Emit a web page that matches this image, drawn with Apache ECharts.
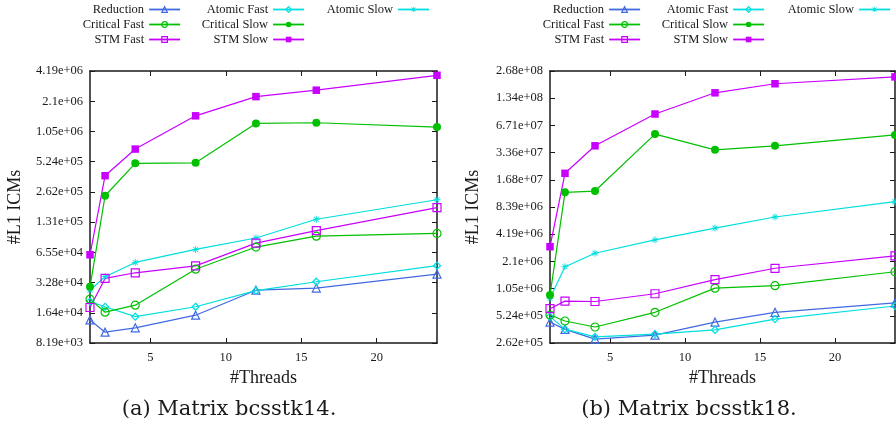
<!DOCTYPE html>
<html>
<head>
<meta charset="utf-8">
<script src="https://cdn.jsdelivr.net/npm/echarts@6/dist/echarts.min.js"></script>
<style>
  html, body { margin: 0; padding: 0; background: #fff; }
  #chart { width: 896px; height: 429px; }
</style>
</head>
<body>
<div id="chart"></div>
<script>
// thread counts on the x axis
const threads = [1, 2, 4, 8, 12, 16, 24];

// (a) Matrix bcsstk14
const reductionA = [13900, 10500, 11600, 15500, 27500, 28900, 39800];
const atomicFastA = [21200, 18800, 15000, 18800, 27200, 33400, 48300];
const atomicSlowA = [27500, 37500, 52000, 70000, 91000, 140000, 219000];
const criticalFastA = [22400, 16600, 19500, 44500, 74000, 95000, 101000];
const criticalSlowA = [29700, 240000, 505000, 510000, 1260000, 1280000, 1160000];
const stmFastA = [18500, 36000, 41000, 48000, 81000, 108000, 183000];
const stmSlowA = [62000, 380000, 700000, 1500000, 2330000, 2700000, 3800000];

// (b) Matrix bcsstk18
const reductionB = [447000, 371000, 289000, 320000, 447000, 573000, 727000];
const atomicFastB = [513000, 373000, 307000, 329000, 366000, 482000, 673000];
const atomicSlowB = [818000, 1830000, 2580000, 3630000, 4900000, 6500000, 9600000];
const criticalFastB = [535000, 459000, 394000, 573000, 1060000, 1130000, 1610000];
const criticalSlowB = [889000, 12200000, 12600000, 53800000, 36000000, 39900000, 52600000];
const stmFastB = [628000, 762000, 755000, 920000, 1320000, 1760000, 2420000];
const stmSlowB = [3050000, 19800000, 39900000, 89700000, 154000000, 194000000, 231000000];

// tick values and labels
const xTicks = [5, 10, 15, 20];
const yTickValsA = [8192, 16384, 32768, 65536, 131072, 262144, 524288, 1048576, 2097152, 4194304];
const yTickLabelsA = ["8.19e+03", "1.64e+04", "3.28e+04", "6.55e+04", "1.31e+05", "2.62e+05",
  "5.24e+05", "1.05e+06", "2.1e+06", "4.19e+06"];
const yTickValsB = [262144, 524288, 1048576, 2097152, 4194304, 8388608, 16777216, 33554432,
  67108864, 134217728, 268435456];
const yTickLabelsB = ["2.62e+05", "5.24e+05", "1.05e+06", "2.1e+06", "4.19e+06", "8.39e+06",
  "1.68e+07", "3.36e+07", "6.71e+07", "1.34e+08", "2.68e+08"];

const FONT = "Liberation Serif";
const CAPTION_FONT = "DejaVu Serif";
const INK = "#1a1a1a";
const BLUE = "#4169e1";
const CYAN = "#00dede";
const GREEN = "#00c000";
const PURPLE = "#c800ff";
const NO_FILL = "rgba(255,255,255,0)";

const ASTERISK =
  "path://M-0.6,-5h1.2v10h-1.2z M-5,-0.6h10v1.2h-10z " +
  "M-3.08,-3.92L3.92,3.08L3.08,3.92L-3.92,-3.08z " +
  "M-3.92,3.08L3.08,-3.92L3.92,-3.08L-3.08,3.92z";

// open markers are drawn hollow (no fill) like gnuplot's
const styles = [
  { name: "Reduction", color: BLUE, symbol: "triangle", size: 8, open: true },
  { name: "Atomic Fast", color: CYAN, symbol: "diamond", size: 7, open: true },
  { name: "Atomic Slow", color: CYAN, symbol: ASTERISK, size: 7, open: false },
  { name: "Critical Fast", color: GREEN, symbol: "circle", size: 8, open: true },
  { name: "Critical Slow", color: GREEN, symbol: "circle", size: 8, open: false },
  { name: "STM Fast", color: PURPLE, symbol: "rect", size: 8, open: true },
  { name: "STM Slow", color: PURPLE, symbol: "rect", size: 7.5, open: false },
];
const dataA = [reductionA, atomicFastA, atomicSlowA, criticalFastA, criticalSlowA, stmFastA, stmSlowA];
const dataB = [reductionB, atomicFastB, atomicSlowB, criticalFastB, criticalSlowB, stmFastB, stmSlowB];

const chart = echarts.init(document.getElementById("chart"));

const pickLabel = (vals, labels) => (v) => {
  const e = Math.round(Math.log2(v));
  const i = vals.findIndex((t) => Math.round(Math.log2(t)) === e);
  return i >= 0 ? labels[i] : "";
};

const markerStyle = (s) =>
  s.open
    ? { color: NO_FILL, borderColor: s.color, borderWidth: 1.2 }
    : { color: s.color, borderWidth: 0 };

const axisLine = { show: true, lineStyle: { color: INK, width: 1.5 } };
const tickStyle = { color: INK, width: 1 };

function xAxes(gridIndex) {
  return [
    {
      gridIndex, type: "value", min: 1, max: 24, position: "bottom",
      axisLine,
      axisTick: { inside: true, length: 5, lineStyle: tickStyle, customValues: xTicks },
      axisLabel: { fontFamily: FONT, fontSize: 12.5, color: INK, margin: 8, customValues: xTicks },
      splitLine: { show: false },
      name: "#Threads", nameLocation: "middle", nameGap: 26,
      nameTextStyle: { fontFamily: FONT, fontSize: 18, color: INK },
    },
    {
      gridIndex, type: "value", min: 1, max: 24, position: "top",
      axisLine,
      axisTick: { inside: true, length: 5, lineStyle: tickStyle, customValues: xTicks },
      axisLabel: { show: false },
      splitLine: { show: false },
    },
  ];
}

function yAxes(gridIndex, vals, labels, gap) {
  const min = vals[0];
  const max = vals[vals.length - 1];
  return [
    {
      gridIndex, type: "log", logBase: 2, min, max, position: "left",
      axisLine,
      axisTick: { inside: true, length: 5, lineStyle: tickStyle, customValues: vals },
      axisLabel: {
        fontFamily: FONT, fontSize: 12.5, color: INK, margin: 7, customValues: vals,
        formatter: pickLabel(vals, labels),
      },
      splitLine: { show: false },
      name: "#L1 ICMs", nameLocation: "middle", nameGap: gap,
      nameTextStyle: { fontFamily: FONT, fontSize: 18, color: INK },
    },
    {
      gridIndex, type: "log", logBase: 2, min, max, position: "right",
      axisLine,
      axisTick: { inside: true, length: 5, lineStyle: tickStyle, customValues: vals },
      axisLabel: { show: false },
      splitLine: { show: false },
    },
  ];
}

function seriesFor(data, axisIndex) {
  return styles.map((s, k) => ({
    name: s.name,
    type: "line",
    xAxisIndex: axisIndex,
    yAxisIndex: axisIndex,
    data: threads.map((t, i) => [t, data[k][i]]),
    symbol: s.symbol,
    symbolSize: s.size,
    showAllSymbol: true,
    clip: false,
    lineStyle: { color: s.color, width: 1.2 },
    itemStyle: markerStyle(s),
    emphasis: { disabled: true },
  }));
}

function legend(names, iconRight) {
  return {
    data: names.map((n) => {
      const s = styles.find((st) => st.name === n);
      return { name: n, itemStyle: markerStyle(s) };
    }),
    orient: "vertical",
    align: "right",
    right: 896 - iconRight,
    top: 2,
    padding: 0,
    itemGap: 0,
    itemWidth: 31,
    itemHeight: 7,
    lineStyle: { width: 1.8 },
    selectedMode: false,
    textStyle: { fontFamily: FONT, fontSize: 12.5, color: INK, lineHeight: 15 },
  };
}

const col1 = ["Reduction", "Critical Fast", "STM Fast"];
const col2 = ["Atomic Fast", "Critical Slow", "STM Slow"];
const col3 = ["Atomic Slow"];

chart.setOption({
  animation: false,
  backgroundColor: "#fff",
  grid: [
    { left: 90, top: 71, width: 347, height: 272 },
    { left: 550, top: 71, width: 345, height: 272 },
  ],
  xAxis: [...xAxes(0), ...xAxes(1)],
  yAxis: [
    ...yAxes(0, yTickValsA, yTickLabelsA, 66),
    ...yAxes(1, yTickValsB, yTickLabelsB, 68),
  ],
  legend: [
    legend(col1, 181), legend(col2, 305), legend(col3, 430),
    legend(col1, 641), legend(col2, 765), legend(col3, 891),
  ],
  series: [...seriesFor(dataA, 0), ...seriesFor(dataB, 2)],
  graphic: [
    {
      type: "text", x: 229, y: 410,
      style: { text: "(a) Matrix bcsstk14.", font: `21px "${CAPTION_FONT}"`, fill: INK, align: "center", verticalAlign: "middle" },
    },
    {
      type: "text", x: 689, y: 410,
      style: { text: "(b) Matrix bcsstk18.", font: `21px "${CAPTION_FONT}"`, fill: INK, align: "center", verticalAlign: "middle" },
    },
  ],
});
</script>
</body>
</html>
